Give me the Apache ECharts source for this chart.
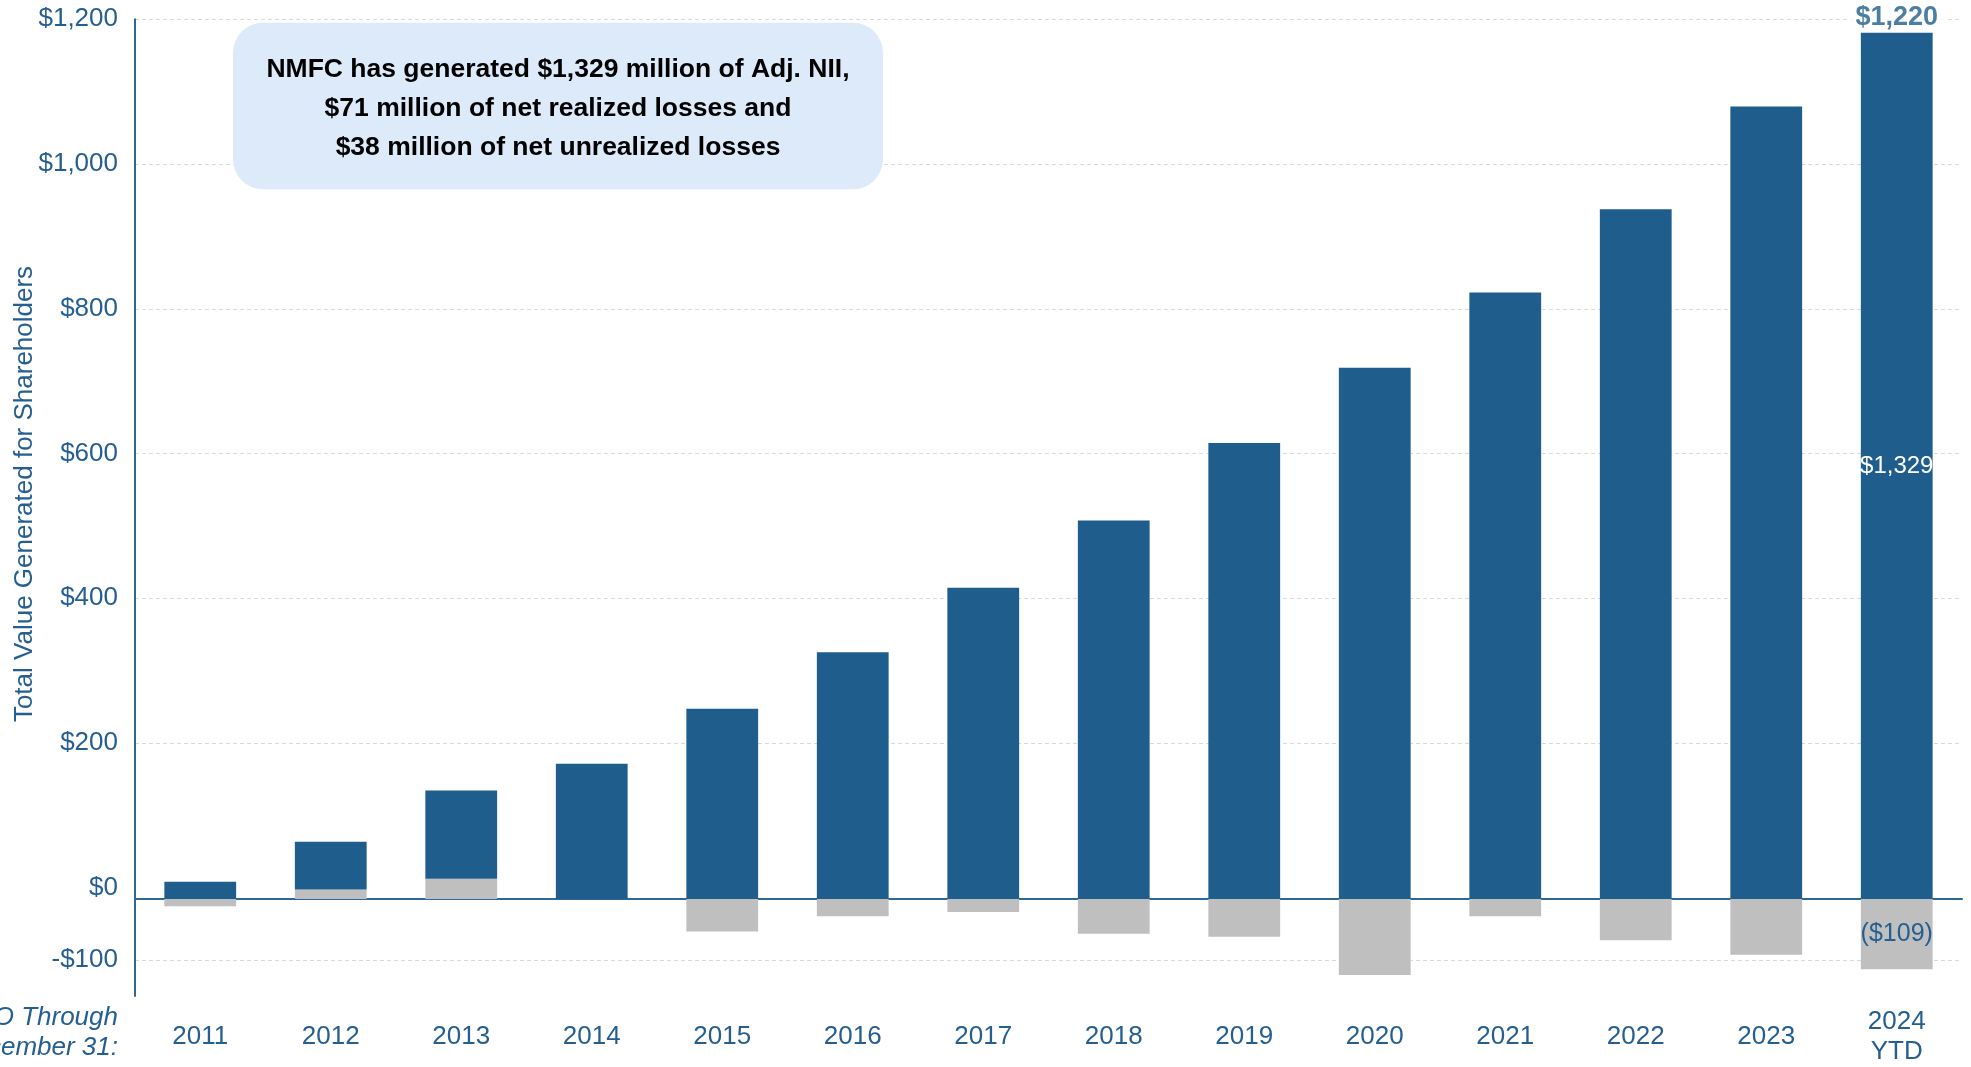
<!DOCTYPE html>
<html>
<head>
<meta charset="utf-8">
<script src="https://cdn.jsdelivr.net/npm/echarts@6/dist/echarts.min.js"></script>
<style>
html,body{margin:0;padding:0;background:#fff;}
#chart{width:1971px;height:1067px;}
</style>
</head>
<body>
<div id="chart"></div>
<script>
// ---- data ----
const categories = ['2011','2012','2013','2014','2015','2016','2017','2018','2019','2020','2021','2022','2023','2024\nYTD'];
const adjNII = [24, 66, 122, 187, 263, 341, 430, 523, 630, 734, 838, 953, 1095, 1197];
const gainsLosses = [-10, 13, 28, 0, -45, -24, -18, -48, -52, -105, -24, -57, -77, -97];
const yTickValues = [-100, 0, 200, 400, 600, 800, 1000, 1200];
const gridLineValues = [-100, 200, 400, 600, 800, 1000, 1200];
const totalLabel = '$1,220';
const niiLabel = '$1,329';
const lossLabel = '($109)';
const calloutLines = [
  'NMFC has generated $1,329 million of Adj. NII,',
  '$71 million of net realized losses and',
  '$38 million of net unrealized losses'
];
const yTitle = 'Total Value Generated for Shareholders';
const xTitle = 'IPO Through\nDecember 31:';

// ---- styles ----
const BLUE = '#1F5D8C';
const TEXT_BLUE = '#255E91';
const AXIS_BLUE = '#2D6898';
const GRAY = '#BFBFBF';
const FONT = 'Liberation Sans, Arial, sans-serif';
const last = adjNII.length - 1;

const chart = echarts.init(document.getElementById('chart'));

function fmt(v){
  const s = '$' + Math.abs(v).toLocaleString('en-US');
  return v < 0 ? '-' + s : s;
}

const blueData = adjNII.map((v,i) => i === last ? {
  value: v,
  label: {show: true, position: 'inside', formatter: niiLabel, color: '#fff', fontSize: 24, fontFamily: FONT}
} : v);
const grayData = gainsLosses.map((v,i) => i === last ? {
  value: v,
  label: {show: true, position: 'inside', formatter: lossLabel, color: TEXT_BLUE, fontSize: 25, fontFamily: FONT}
} : v);
const topData = adjNII.map((v,i) => i === last ? v : null);

chart.setOption({
  animation: false,
  backgroundColor: '#fff',
  grid: {left: 135, right: 9, top: 19.3, bottom: 71, containLabel: false, outerBoundsMode: 'none'},
  xAxis: [
    {
      type: 'category', data: categories, position: 'bottom',
      axisLine: {show: false, onZero: false}, axisTick: {show: false}, splitLine: {show: false},
      axisLabel: {color: TEXT_BLUE, fontSize: 26, fontFamily: FONT, margin: 41, verticalAlign: 'middle', lineHeight: 30, interval: 0}
    },
    {
      type: 'category', data: categories, position: 'bottom',
      axisLine: {show: true, onZero: true, onZeroAxisIndex: 1, lineStyle: {color: AXIS_BLUE, width: 2}},
      axisTick: {show: false}, axisLabel: {show: false}, splitLine: {show: false}
    }
  ],
  yAxis: [
    {
      type: 'value', min: -149.65, max: 1200, position: 'left',
      axisLine: {show: true, lineStyle: {color: AXIS_BLUE, width: 2}},
      axisTick: {show: false, customValues: gridLineValues},
      axisLabel: {customValues: yTickValues, color: TEXT_BLUE, fontSize: 26, fontFamily: FONT, margin: 17, formatter: fmt},
      splitLine: {show: true, lineStyle: {color: '#D9D9D9', width: 1, type: [4, 3]}}
    },
    {
      type: 'value', min: -134.04, max: 1215.6, show: false, position: 'left',
      splitLine: {show: false}
    }
  ],
  series: [
    {
      name: 'Net realized & unrealized', type: 'bar', stack: 'total', xAxisIndex: 0, yAxisIndex: 1,
      data: grayData, barWidth: '55%', itemStyle: {color: GRAY}, z: 3
    },
    {
      name: 'Adj. NII', type: 'bar', stack: 'total', xAxisIndex: 0, yAxisIndex: 1,
      data: blueData, barWidth: '55%', itemStyle: {color: BLUE}, z: 3
    },
    {
      name: 'Total', type: 'scatter', xAxisIndex: 0, yAxisIndex: 1,
      data: topData, symbolSize: 1, itemStyle: {color: 'rgba(0,0,0,0)'}, z: 5,
      label: {show: true, position: 'top', distance: 1, formatter: totalLabel, color: BLUE, fontSize: 27, fontWeight: 'bold', fontFamily: FONT,
              backgroundColor: '#fff', padding: [0, 8]}
    }
  ],
  graphic: [
    {
      type: 'rect', shape: {x: 233, y: 22.7, width: 650, height: 166.6, r: 30},
      style: {fill: '#DCEAF9'}, z: 10
    },
    {
      type: 'text', x: 558, y: 109, z: 11,
      style: {text: calloutLines.join('\n'), align: 'center', verticalAlign: 'middle', fill: '#000',
              font: 'bold 26.5px ' + FONT, lineHeight: 39}
    },
    {
      type: 'text', x: 25, y: 494, rotation: Math.PI / 2, z: 11,
      style: {text: yTitle, align: 'center', verticalAlign: 'middle', fill: TEXT_BLUE, font: '26px ' + FONT}
    },
    {
      type: 'text', x: 118, y: 1033, z: 11,
      style: {text: xTitle, align: 'right', verticalAlign: 'middle', fill: TEXT_BLUE, font: 'italic 26px ' + FONT, lineHeight: 30}
    }
  ]
});
</script>
</body>
</html>
